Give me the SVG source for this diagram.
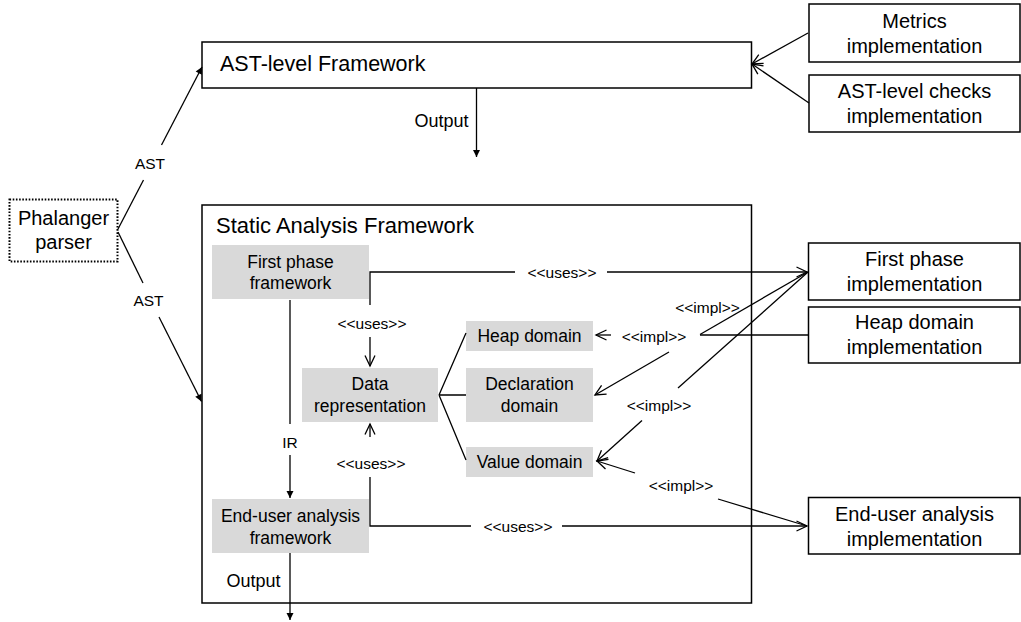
<svg xmlns="http://www.w3.org/2000/svg" width="1021" height="622" viewBox="0 0 1021 622">
<style>
  text { font-family: "Liberation Sans", Arial, sans-serif; fill: #000; dominant-baseline: central; }
  .t { font-size: 21.5px; }
  .b { font-size: 20px; text-anchor: middle; }
  .g { font-size: 17.5px; text-anchor: middle; }
  .l { font-size: 15.5px; text-anchor: middle; }
  .out { font-size: 18px; }
  .box { fill: #fff; stroke: #000; stroke-width: 1.5; }
  .gray { fill: #d9d9d9; stroke: none; }
  .dot { fill: #fff; stroke: #000; stroke-width: 2; stroke-dasharray: 1.6 1.6; }
  .c { fill: none; stroke: #000; stroke-width: 1.3; }
  .o { marker-end: url(#open); }
  .f { marker-end: url(#fill); }
</style>
<defs>
  <marker id="open" markerUnits="userSpaceOnUse" markerWidth="14" markerHeight="14" viewBox="-12 -7 14 14" refX="0" refY="0" orient="auto" overflow="visible">
    <path d="M-10.5,-5 L0,0 L-10.5,5" fill="none" stroke="#000" stroke-width="1.3"/>
  </marker>
  <marker id="fill" markerUnits="userSpaceOnUse" markerWidth="10" markerHeight="10" viewBox="-8 -5 10 10" refX="0" refY="0" orient="auto" overflow="visible">
    <path d="M-7,-3.5 L0,0 L-7,3.5 Z" fill="#000"/>
  </marker>
</defs>

<g id="ast-framework">
  <rect class="box" x="202" y="42" width="549.5" height="46"/>
  <text class="t" x="220" y="64">AST-level Framework</text>
</g>
<g id="static-framework">
  <rect class="box" x="202" y="205" width="549.5" height="398"/>
  <text class="t" x="216" y="225" style="font-size:22px">Static Analysis Framework</text>
</g>
<g id="phalanger">
  <rect class="dot" x="9.5" y="199.5" width="108" height="62"/>
  <text class="b" x="63.5" y="218">Phalanger</text>
  <text class="b" x="63.5" y="242">parser</text>
</g>
<g id="metrics">
  <rect class="box" x="809" y="4" width="211" height="58"/>
  <text class="b" x="914.5" y="21">Metrics</text>
  <text class="b" x="914.5" y="46">implementation</text>
</g>
<g id="ast-checks">
  <rect class="box" x="809" y="75" width="211" height="57"/>
  <text class="b" x="914.5" y="91">AST-level checks</text>
  <text class="b" x="914.5" y="116">implementation</text>
</g>
<g id="first-phase-impl">
  <rect class="box" x="808.5" y="243" width="211.5" height="57"/>
  <text class="b" x="914.5" y="259">First phase</text>
  <text class="b" x="914.5" y="284">implementation</text>
</g>
<g id="heap-impl">
  <rect class="box" x="808.5" y="307" width="211.5" height="56"/>
  <text class="b" x="914.5" y="322">Heap domain</text>
  <text class="b" x="914.5" y="347">implementation</text>
</g>
<g id="enduser-impl">
  <rect class="box" x="808.5" y="497.5" width="211.5" height="56.5"/>
  <text class="b" x="914.5" y="514">End-user analysis</text>
  <text class="b" x="914.5" y="539">implementation</text>
</g>
<g id="first-phase-fw">
  <rect class="gray" x="212" y="245" width="157" height="54"/>
  <text class="g" x="290.5" y="262">First phase</text>
  <text class="g" x="290.5" y="283">framework</text>
</g>
<g id="data-rep">
  <rect class="gray" x="302" y="368" width="136" height="54"/>
  <text class="g" x="370" y="384">Data</text>
  <text class="g" x="370" y="406">representation</text>
</g>
<g id="heap-domain">
  <rect class="gray" x="466" y="321" width="127" height="30"/>
  <text class="g" x="529.5" y="336">Heap domain</text>
</g>
<g id="decl-domain">
  <rect class="gray" x="466" y="368" width="127" height="54"/>
  <text class="g" x="529.5" y="384">Declaration</text>
  <text class="g" x="529.5" y="406">domain</text>
</g>
<g id="value-domain">
  <rect class="gray" x="466" y="447" width="127" height="30"/>
  <text class="g" x="529.5" y="462">Value domain</text>
</g>
<g id="enduser-fw">
  <rect class="gray" x="212" y="499" width="157" height="54"/>
  <text class="g" x="290.5" y="516">End-user analysis</text>
  <text class="g" x="290.5" y="538">framework</text>
</g>

<g id="connectors">
  <!-- AST edges -->
  <path class="c" d="M118,229 L143.5,180"/>
  <path class="c f" d="M161.5,145 L202,67"/>
  <text class="l" x="150" y="163">AST</text>
  <path class="c" d="M118,232 L143,283"/>
  <path class="c f" d="M159,317 L201.5,401.5"/>
  <text class="l" x="148.5" y="300">AST</text>
  <!-- output top -->
  <path class="c f" d="M476.5,88 V157"/>
  <text class="l out" x="441.5" y="121">Output</text>
  <!-- metrics / checks -->
  <path class="c o" d="M808,33 L752,64"/>
  <path class="c o" d="M809,103 L752,64"/>
  <!-- first phase uses -->
  <path class="c" d="M370,305 V272 H515"/>
  <path class="c o" d="M607,272 H807"/>
  <text class="l" x="562" y="272">&lt;&lt;uses&gt;&gt;</text>
  <path class="c o" d="M370,337 V366"/>
  <text class="l" x="372" y="323">&lt;&lt;uses&gt;&gt;</text>
  <!-- IR -->
  <path class="c" d="M290,300 V424"/>
  <path class="c f" d="M290,455 V498"/>
  <text class="l" x="290" y="442">IR</text>
  <!-- data rep fan -->
  <path class="c" d="M439,395 L466,333 M439,395 H466 M439,395 L466,460"/>
  <!-- lower uses -->
  <path class="c o" d="M370,437 V424"/>
  <text class="l" x="371" y="463">&lt;&lt;uses&gt;&gt;</text>
  <path class="c" d="M370,477 V526 H471"/>
  <path class="c o" d="M562,526 H807"/>
  <text class="l" x="518" y="526">&lt;&lt;uses&gt;&gt;</text>
  <!-- impl edges -->
  <path class="c" d="M808,272 L700,334.5"/>
  <path class="c o" d="M669,352 L595,395"/>
  <text class="l" x="707.5" y="307">&lt;&lt;impl&gt;&gt;</text>
  <path class="c" d="M808,335 H700"/>
  <path class="c o" d="M611,335 H596"/>
  <text class="l" x="654" y="336">&lt;&lt;impl&gt;&gt;</text>
  <path class="c" d="M808,272 L678,388"/>
  <path class="c o" d="M642,420.5 L597,461"/>
  <text class="l" x="659" y="405">&lt;&lt;impl&gt;&gt;</text>
  <path class="c" d="M807,526 L718,499"/>
  <path class="c o" d="M635,473 L597,461"/>
  <text class="l" x="681" y="485">&lt;&lt;impl&gt;&gt;</text>
  <!-- output bottom -->
  <path class="c f" d="M290,553 V620"/>
  <text class="l out" x="253.5" y="581">Output</text>
</g>
</svg>
